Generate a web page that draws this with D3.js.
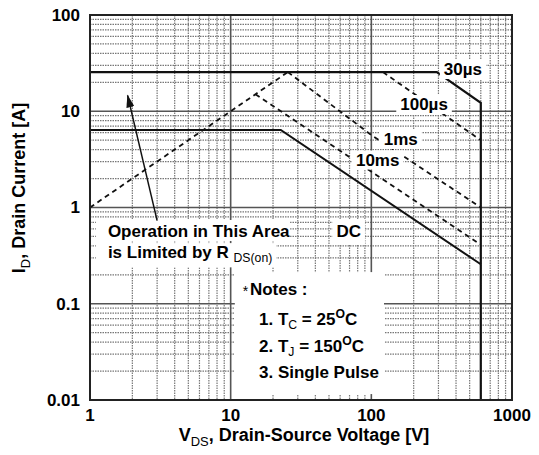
<!DOCTYPE html>
<html>
<head>
<meta charset="utf-8">
<script src="https://cdn.jsdelivr.net/npm/d3@7"></script>
<style>
  body { margin: 0; background: #fff; }
  svg { display: block; font-family: Arial, "Liberation Sans", sans-serif; }
</style>
</head>
<body>
<svg id="soaChart" width="539" height="455"></svg>
<script>
// axis ticks
const xTicks = [1, 10, 100, 1000];
const xTickLabels = ['1', '10', '100', '1000'];
const yTicks = [0.01, 0.1, 1, 10, 100];
const yTickLabels = ['0.01', '0.1', '1', '10', '100'];

// safe operating area boundaries, [V_DS (V), I_D (A)]
const rdsOnLimit = [[1, 1], [25.5, 25.5]];
const pulse30us = [[1, 25.5], [292, 25.5], [600, 12.2], [600, 0.01]];
const pulse100us = [[121, 25.5], [600, 5.0]];
const pulse1ms = [[25.5, 25.5], [100, 5.67], [600, 1.0]];
const pulse10ms = [[15, 15], [600, 0.41]];
const dcLimit = [[1, 6.4], [22.7, 6.4], [600, 0.257]];

const curveNames = ['30µs', '100µs', '1ms', '10ms', 'DC'];

document.addEventListener('DOMContentLoaded', function () {
    svg = d3.select('#soaChart');
    width = +svg.attr('width');
    height = +svg.attr('height');
    margin = { top: 15, bottom: 55, right: 27, left: 90 };
    innerWidth = width - margin.left - margin.right;
    innerHeight = height - margin.top - margin.bottom;
    drawSOA();
});

// writes text made of [string, 'sub'|'sup'|''] parts
function richText(sel, parts, size) {
    let shift = 0;
    parts.forEach(p => {
        const off = p[1] == 'sub' ? size * 0.25 : p[1] == 'sup' ? -size * 0.42 : 0;
        sel.append('tspan')
            .attr('dy', off - shift)
            .attr('font-size', p[1] ? size * 0.72 : size)
            .attr('font-weight', p[1] == 'sub' ? 'normal' : 'bold')
            .text(p[0]);
        shift = off;
    });
}

// white patch behind a text node, so grid lines and curves break around it
function whiteBox(layer, node, pad) {
    const b = node.getBBox();
    layer.append('rect')
        .attr('x', b.x - pad[3]).attr('y', b.y - pad[0])
        .attr('width', b.width + pad[1] + pad[3])
        .attr('height', b.height + pad[0] + pad[2])
        .attr('fill', '#fff');
}

function drawSOA() {
    const x = d3.scaleLog().domain([1, 1000]).range([0, innerWidth]);
    const y = d3.scaleLog().domain([0.01, 100]).range([innerHeight, 0]);

    const g = svg.append('g')
        .attr('transform', 'translate(' + margin.left + ',' + margin.top + ')');

    // grid: dotted minor lines, solid decade lines
    const minorX = [], minorY = [];
    [1, 10, 100].forEach(d => { for (let k = 2; k < 10; k++) minorX.push(d * k); });
    [0.01, 0.1, 1, 10].forEach(d => { for (let k = 2; k < 10; k++) minorY.push(d * k); });

    const grid = g.append('g');
    grid.selectAll('.mx').data(minorX).join('line')
        .attr('x1', d => x(d)).attr('x2', d => x(d))
        .attr('y1', 0).attr('y2', innerHeight)
        .attr('stroke', '#777').attr('stroke-width', 1.2).attr('stroke-dasharray', '1.5,1');
    grid.selectAll('.my').data(minorY).join('line')
        .attr('y1', d => y(d)).attr('y2', d => y(d))
        .attr('x1', 0).attr('x2', innerWidth)
        .attr('stroke', '#777').attr('stroke-width', 1.2).attr('stroke-dasharray', '1.5,1');
    grid.selectAll('.Mx').data(xTicks).join('line')
        .attr('x1', d => x(d)).attr('x2', d => x(d))
        .attr('y1', 0).attr('y2', innerHeight)
        .attr('stroke', '#555').attr('stroke-width', 1.6);
    grid.selectAll('.My').data(yTicks).join('line')
        .attr('y1', d => y(d)).attr('y2', d => y(d))
        .attr('x1', 0).attr('x2', innerWidth)
        .attr('stroke', '#555').attr('stroke-width', 1.6);

    const boxes = g.append('g');
    const texts = g.append('g');

    // left-side note and its arrow
    const opText = texts.append('text').attr('x', x(1.34)).attr('y', y(0.494)).attr('dy', '0.35em');
    richText(opText, [['Operation in This Area', '']], 17);
    const opText2 = texts.append('text').attr('x', x(1.34)).attr('y', y(0.298)).attr('dy', '0.35em');
    richText(opText2, [['is Limited by R ', ''], ['DS(on)', 'sub']], 17);

    // notes block
    const notes = texts.append('g');
    notes.append('text').attr('x', x(12.2)).attr('y', y(0.123)).attr('dy', '0.1em')
        .attr('font-size', 14).text('*');
    const n0 = notes.append('text').attr('x', x(13.7)).attr('y', y(0.123)).attr('dy', '0.35em');
    richText(n0, [['Notes :', '']], 17);
    const n1 = notes.append('text').attr('x', x(15.9)).attr('y', y(0.0603)).attr('dy', '0.35em');
    richText(n1, [['1. T', ''], ['C', 'sub'], [' = 25', ''], ['O', 'sup'], ['C', '']], 17);
    const n2 = notes.append('text').attr('x', x(15.9)).attr('y', y(0.0315)).attr('dy', '0.35em');
    richText(n2, [['2. T', ''], ['J', 'sub'], [' = 150', ''], ['O', 'sup'], ['C', '']], 17);
    const n3 = notes.append('text').attr('x', x(15.9)).attr('y', y(0.0169)).attr('dy', '0.35em');
    richText(n3, [['3. Single Pulse', '']], 17);

    // curves
    const line = d3.line().x(d => x(d[0])).y(d => y(d[1]));
    const curves = g.append('g').attr('fill', 'none').attr('stroke', '#111');
    curves.append('path').datum(rdsOnLimit).attr('d', line)
        .attr('stroke-width', 1.8).attr('stroke-dasharray', '5,4');
    curves.append('path').datum(pulse100us).attr('d', line)
        .attr('stroke-width', 1.8).attr('stroke-dasharray', '5,4');
    curves.append('path').datum(pulse1ms).attr('d', line)
        .attr('stroke-width', 1.8).attr('stroke-dasharray', '5,4');
    curves.append('path').datum(pulse10ms).attr('d', line)
        .attr('stroke-width', 1.8).attr('stroke-dasharray', '5,4');
    curves.append('path').datum(dcLimit).attr('d', line).attr('stroke-width', 2);
    curves.append('path').datum(pulse30us).attr('d', line).attr('stroke-width', 2.2);

    // curve labels sit on white patches that cut the curves
    const labelAt = [[448, 23.8], [237, 10.3], [162, 4.46], [111, 2.73], [69, 0.488]];
    const labBoxes = g.append('g');
    const labs = g.append('g');
    curveNames.forEach((name, i) => {
        const t = labs.append('text')
            .attr('x', x(labelAt[i][0])).attr('y', y(labelAt[i][1])).attr('dy', '0.35em')
            .attr('text-anchor', 'middle');
        richText(t, [[name, '']], 17);
        whiteBox(labBoxes, t.node(), name == 'DC' ? [3, 4, 3, 4] : [0, 4, 0, 4]);
    });

    whiteBox(boxes, opText.node(), [2, 0, 0, 12]);
    whiteBox(boxes, opText2.node(), [0, 4, 2, 12]);
    whiteBox(boxes, notes.node(), [8, 5, 12, 8]);

    // arrow pointing up to the R_DS(on) region
    svg.append('defs').append('marker')
        .attr('id', 'head').attr('markerUnits', 'userSpaceOnUse')
        .attr('markerWidth', 13).attr('markerHeight', 8)
        .attr('refX', 12).attr('refY', 4).attr('orient', 'auto')
        .append('path').attr('d', 'M0,0L13,4L0,8Z').attr('fill', '#111');
    g.append('line')
        .attr('x1', x(3.0)).attr('y1', y(0.73))
        .attr('x2', x(1.85)).attr('y2', y(14.6))
        .attr('stroke', '#111').attr('stroke-width', 1.5)
        .attr('marker-end', 'url(#head)');

    // frame
    g.append('rect').attr('width', innerWidth).attr('height', innerHeight)
        .attr('fill', 'none').attr('stroke', '#222').attr('stroke-width', 2);

    // tick labels
    g.selectAll('.xl').data(xTicks).join('text')
        .attr('x', d => x(d)).attr('y', innerHeight + 15).attr('dy', '0.35em')
        .attr('text-anchor', 'middle').attr('font-size', 17).attr('font-weight', 'bold')
        .text((d, i) => xTickLabels[i]);
    g.selectAll('.yl').data(yTicks).join('text')
        .attr('x', -10).attr('y', d => y(d)).attr('dy', '0.35em')
        .attr('text-anchor', 'end').attr('font-size', 17).attr('font-weight', 'bold')
        .text((d, i) => yTickLabels[i]);

    // axis titles
    const xt = g.append('text').attr('x', innerWidth / 2 + 3).attr('y', innerHeight + 41)
        .attr('dy', '0.35em').attr('text-anchor', 'middle');
    richText(xt, [['V', ''], ['DS', 'sub'], [', Drain-Source Voltage [V]', '']], 18);
    const yt = svg.append('text')
        .attr('transform', 'translate(25,188) rotate(-90)')
        .attr('dy', '0.35em').attr('text-anchor', 'middle');
    richText(yt, [['I', ''], ['D', 'sub'], [', Drain Current [A]', '']], 18);
}
</script>
</body>
</html>
